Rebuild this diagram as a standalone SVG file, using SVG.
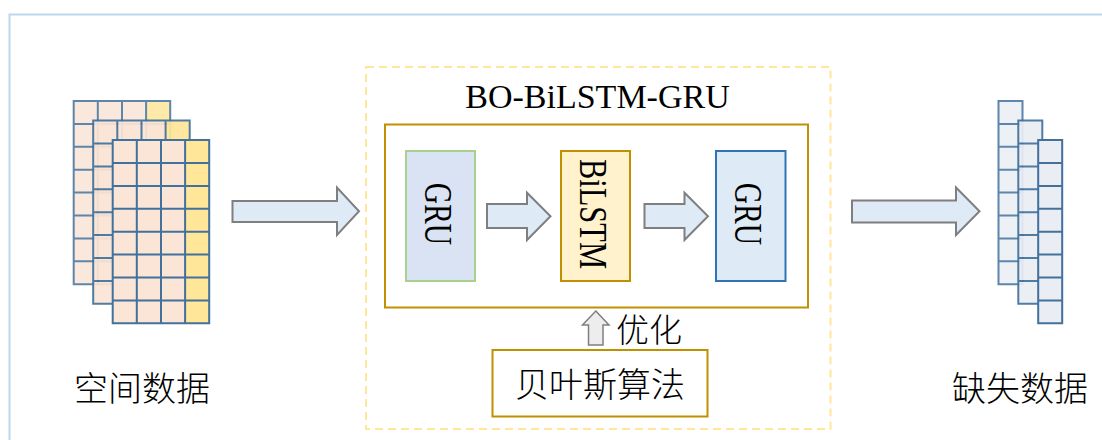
<svg xmlns="http://www.w3.org/2000/svg" xmlns:xlink="http://www.w3.org/1999/xlink" width="1102" height="440" viewBox="0 0 1102 440">
  <style>
    .serif { font-family: "Liberation Serif", "Times New Roman", serif; fill: #000; }
    .cjk { font-family: "Noto Sans CJK SC", "Noto Sans", sans-serif; font-weight: 300; fill: #000; }
    .flow { fill: #DEEBF7; stroke: #7F7F7F; stroke-width: 2; stroke-linejoin: miter; }
    .gridline { fill: none; stroke: #41719C; stroke-width: 2; }
    .gold { fill: #FFFFFF; stroke: #BF9000; stroke-width: 2; }
  </style>
  <defs>
    <!-- 4 x 8 data matrix: three peach columns, one yellow column -->
    <g id="matrix">
      <rect x="0" y="0" width="72.4" height="183.2" fill="#FBE5D6"/>
      <rect x="72.4" y="0" width="24.1" height="183.2" fill="#FFE699"/>
      <path class="gridline" d="M0 0H96.5V183.2H0Z M24.1 0V183.2 M48.3 0V183.2 M72.4 0V183.2 M0 22.9H96.5 M0 45.8H96.5 M0 68.7H96.5 M0 91.6H96.5 M0 114.5H96.5 M0 137.4H96.5 M0 160.3H96.5"/>
    </g>
    <!-- 1 x 8 column of missing values -->
    <g id="column">
      <rect x="0" y="0" width="24" height="183.2" fill="#EAEEF4"/>
      <path class="gridline" d="M0 0H24V183.2H0Z M0 22.9H24 M0 45.8H24 M0 68.7H24 M0 91.6H24 M0 114.5H24 M0 137.4H24 M0 160.3H24"/>
    </g>
  </defs>

  <!-- frame -->
  <path d="M9.5 440V14.5H1102" fill="none" stroke="#BDD7EE" stroke-width="2"/>

  <!-- spatial data stack -->
  <g id="spatial-data">
    <use xlink:href="#matrix" x="73.7" y="101" opacity="0.85"/>
    <use xlink:href="#matrix" x="93.2" y="120.6" opacity="0.92"/>
    <use xlink:href="#matrix" x="112.7" y="140.1"/>
    <text class="cjk" x="142" y="401" font-size="34" text-anchor="middle">空间数据</text>
  </g>

  <!-- missing data stack -->
  <g id="missing-data">
    <use xlink:href="#column" x="998.5" y="101" opacity="0.85"/>
    <use xlink:href="#column" x="1018.3" y="120.6" opacity="0.92"/>
    <use xlink:href="#column" x="1038.2" y="140.1"/>
    <text class="cjk" x="1020" y="401" font-size="34" text-anchor="middle">缺失数据</text>
  </g>

  <!-- model container -->
  <g id="model">
    <rect x="366" y="67" width="464.5" height="362" fill="none" stroke="#FFE699" stroke-width="2" stroke-dasharray="8 5"/>
    <text class="serif" x="597.5" y="108.3" font-size="34" text-anchor="middle">BO-BiLSTM-GRU</text>
    <rect class="gold" x="385" y="124.5" width="423" height="183"/>
  </g>

  <g id="gru-in">
    <rect x="406" y="151" width="69" height="130" fill="#DAE3F3" stroke="#A9D18E" stroke-width="2"/>
    <text class="serif" font-size="29.5" text-anchor="middle" transform="translate(438.5 214) rotate(90) scale(1 1.33)" x="0" y="9.8">GRU</text>
  </g>

  <g id="bilstm">
    <rect x="561" y="151" width="69" height="130" fill="#FFF2CC" stroke="#BF9000" stroke-width="2"/>
    <text class="serif" font-size="30.5" text-anchor="middle" transform="translate(593.5 214) rotate(90) scale(1 1.3)" x="0" y="10">BiLSTM</text>
  </g>

  <g id="gru-out">
    <rect x="716" y="151" width="69.5" height="130" fill="#DEEBF7" stroke="#2E75B6" stroke-width="2"/>
    <text class="serif" font-size="29.5" text-anchor="middle" transform="translate(748.5 214) rotate(90) scale(1 1.33)" x="0" y="9.8">GRU</text>
  </g>

  <g id="bayes">
    <rect class="gold" x="492.5" y="350" width="215" height="66.5"/>
    <text class="cjk" x="600" y="397" font-size="34" text-anchor="middle">贝叶斯算法</text>
  </g>

  <!-- connectors -->
  <g id="connectors">
    <polygon class="flow" points="232.5,201 337,201 337,187.5 359,211.2 337,235 337,222 232.5,222"/>
    <polygon class="flow" points="852,200.5 956,200.5 956,187.5 979.5,211.2 956,235 956,222.5 852,222.5"/>
    <polygon class="flow" points="487,204 527,204 527,192.7 550.5,216.3 527,240 527,228 487,228"/>
    <polygon class="flow" points="644.5,204 684.5,204 684.5,192.7 708,216.3 684.5,240 684.5,228 644.5,228"/>
    <polygon points="595.8,311 609,325 603,325 603,345 588.5,345 588.5,325 582.5,325" fill="#EDEDED" stroke="#7F7F7F" stroke-width="1.5"/>
    <text class="cjk" x="616" y="342" font-size="33">优化</text>
  </g>
</svg>
